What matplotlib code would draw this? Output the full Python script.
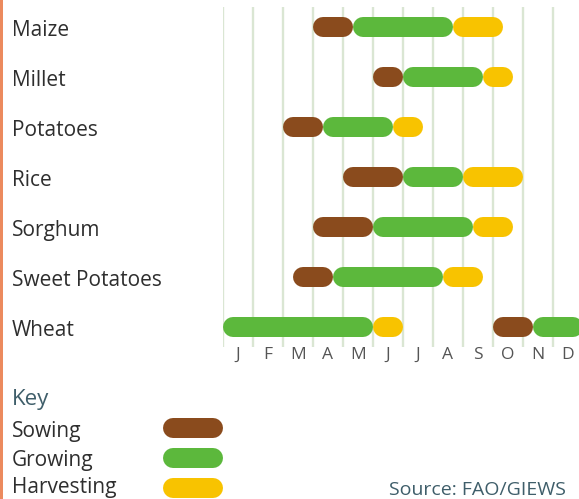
import matplotlib
matplotlib.use("Agg")
import matplotlib.pyplot as plt
from matplotlib.transforms import blended_transform_factory
from matplotlib.patches import Rectangle

plt.rcParams["font.family"] = ["Open Sans", "DejaVu Sans"]

# -----------------------------
# Data (months: 0 = start of Jan, 12 = end of Dec)
# -----------------------------
crops = ["Maize", "Millet", "Potatoes", "Rice", "Sorghum", "Sweet Potatoes", "Wheat"]
months = ["J", "F", "M", "A", "M", "J", "J", "A", "S", "O", "N", "D"]

# (row, start, end)
sowing = [(0, 3.0, 4.33), (1, 5.0, 6.0), (2, 2.0, 3.33), (3, 4.0, 6.0),
          (4, 3.0, 5.0), (5, 2.33, 3.67), (6, 9.0, 10.33)]
growing = [(0, 4.33, 7.67), (1, 6.0, 8.67), (2, 3.33, 5.67), (3, 6.0, 8.0),
           (4, 5.0, 8.33), (5, 3.67, 7.33), (6, 0.0, 5.0), (6, 10.33, 12.0)]
harvesting = [(0, 7.67, 9.33), (1, 8.67, 9.67), (2, 5.67, 6.67), (3, 8.0, 10.0),
              (4, 8.33, 9.67), (5, 7.33, 8.67), (6, 5.0, 6.0)]

phases = ["Sowing", "Growing", "Harvesting"]
colors = ["#8a4b1d", "#5cb83c", "#f8c300"]

# -----------------------------
# Figure
# -----------------------------
W, H = 579, 499
fig = plt.figure(figsize=(W / 100, H / 100), dpi=100)

def px_box(x0, y0, x1, y1):
    # pixel box (top-left origin) -> figure fraction rect
    return [x0 / W, 1 - y1 / H, (x1 - x0) / W, (y1 - y0) / H]

ax = fig.add_axes(px_box(223, 7, 583, 347))
ax.set_xlim(0, 12)
ax.set_ylim(6.4, -0.4)
for s in ax.spines.values():
    s.set_visible(False)

# gridlines at month boundaries, month letters in between
ax.set_xticks(range(12))
ax.set_xticklabels([])
ax.set_xticks([i + 0.5 for i in range(12)], minor=True)
ax.set_xticklabels(months, minor=True, fontsize=12.5, color="#555555")
ax.tick_params(axis="x", which="both", length=0, pad=0)
ax.set_yticks([])
ax.grid(axis="x", which="major", color="#dae6d3", linewidth=1.7)
ax.set_axisbelow(True)

bar_px = 20
lw = bar_px * 72 / 100
r = (bar_px / 2) / (360 / 12)  # cap radius in months

for segs, col in zip([sowing, growing, harvesting], colors):
    for row, start, end in segs:
        ax.plot([start + r, end - r], [row, row], color=col, lw=lw,
                solid_capstyle="round", zorder=3)

# crop labels
trans = blended_transform_factory(fig.transFigure, ax.transData)
for i, name in enumerate(crops):
    ax.text(12 / W, i + 0.07, name, transform=trans, ha="left", va="center",
            fontsize=15, color="#2e2e2e")

# -----------------------------
# Key
# -----------------------------
kax = fig.add_axes(px_box(163, 413, 223, 503))
kax.set_xlim(0, 1)
kax.set_ylim(3, 0)
kax.axis("off")
kr = (bar_px / 2) / 60
for i, col in enumerate(colors):
    kax.plot([kr, 1 - kr], [i + 0.5, i + 0.5], color=col, lw=lw,
             solid_capstyle="round")

fig.text(12 / W, 1 - 400 / H, "Key", fontsize=16, color="#3f5e6a",
         ha="left", va="center")
key_baselines = [437, 466, 493]
for name, yb in zip(phases, key_baselines):
    fig.text(12 / W, 1 - yb / H, name, fontsize=15,
             color="#2e2e2e", ha="left", va="baseline")

fig.text(389 / W, 1 - 495 / H, "Source: FAO/GIEWS", fontsize=14,
         color="#3f5e6a", ha="left", va="baseline")

# orange border on the left
fig.add_artist(Rectangle((0, 0), 3 / W, 1, transform=fig.transFigure,
                         color="#ec8a5e", lw=0))

fig.savefig("out.png", dpi=100)
